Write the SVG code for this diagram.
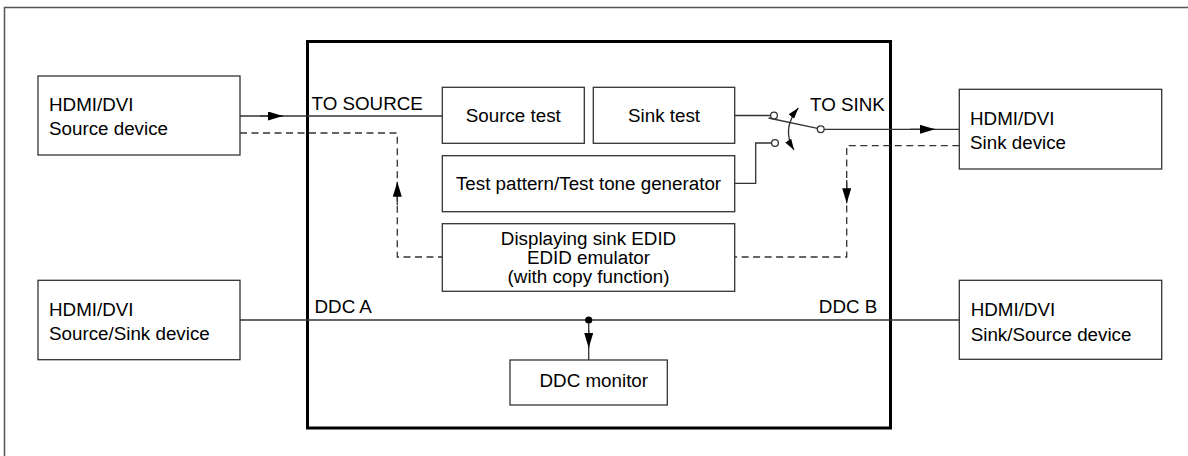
<svg xmlns="http://www.w3.org/2000/svg" width="1188" height="456" viewBox="0 0 1188 456">
<style>
  text{font-family:"Liberation Sans",Arial,sans-serif;font-size:18.8px;fill:#000}
  .c{text-anchor:middle}
  .e{text-anchor:end}
  .box{fill:#fff;stroke:#333;stroke-width:1.3}
  .ln{fill:none;stroke:#333;stroke-width:1.3}
  .dash{fill:none;stroke:#333;stroke-width:1.3;stroke-dasharray:7 4.5}
  .dot{fill:#fff;stroke:#333;stroke-width:1.3}
</style>
<defs>
  <marker id="arr" markerUnits="userSpaceOnUse" markerWidth="16" markerHeight="10" refX="15" refY="4.5" orient="auto">
    <path d="M0,0 L15,4.5 L0,9 z" fill="#000" stroke="none"/>
  </marker>
  <marker id="sarr" markerUnits="userSpaceOnUse" markerWidth="12" markerHeight="8" refX="11" refY="3.5" orient="auto-start-reverse">
    <path d="M0,0 L11,3.5 L0,7 z" fill="#000" stroke="none"/>
  </marker>
</defs>
<rect id="frame" x="4.5" y="7.5" width="1200" height="470" fill="none" stroke="#555" stroke-width="1.5"/>
<g id="main-unit"><rect x="307.5" y="41.5" width="583" height="386.5" fill="none" stroke="#000" stroke-width="3"/></g>

<g id="connectors">
  <!-- source signal -->
  <path class="ln" d="M240,116 H442.3"/>
  <path class="ln" d="M260,116 H283" marker-end="url(#arr)"/>
  <!-- sink test to switch -->
  <path class="ln" d="M734.7,115.5 H770.5"/>
  <path class="ln" d="M734.7,183.3 H755.7 V143 H771.5"/>
  <!-- switch blade -->
  <path class="ln" d="M768.5,118 L817.5,128.3"/>
  <path class="sarr ln" d="M798.3,108 Q781,129 794,150" marker-start="url(#sarr)" marker-end="url(#sarr)"/>
  <!-- output -->
  <path class="ln" d="M824.2,129.3 H959.3"/>
  <path class="ln" d="M910,129.3 H935" marker-end="url(#arr)"/>
  <!-- EDID dashed -->
  <path class="dash" d="M240,133 H397.3 V257 H442.3"/>
  <path class="ln" d="M397.3,205 V181.7" marker-end="url(#arr)" stroke="none"/>
  <path class="dash" d="M959.3,145.7 H846.7 V257 H734.7"/>
  <path class="ln" d="M846.7,180 V203.3" marker-end="url(#arr)" stroke="none"/>
  <!-- DDC -->
  <path class="ln" d="M240,320 H959.3"/>
  <path class="ln" d="M588.7,320 V360"/>
  <path class="ln" d="M588.7,330 V348" marker-end="url(#arr)"/>
  <circle cx="588.7" cy="320" r="3.6" fill="#000"/>
  <circle class="dot" cx="774" cy="115.5" r="3.4"/>
  <circle class="dot" cx="775" cy="143" r="3.4"/>
  <circle class="dot" cx="820.7" cy="129.3" r="3.4"/>
</g>

<g id="source-device">
  <rect class="box" x="38" y="76" width="202" height="79"/>
  <text x="49" y="110.5">HDMI/DVI</text>
  <text x="49" y="135">Source device</text>
</g>
<g id="source-sink-device">
  <rect class="box" x="38" y="280.3" width="202" height="79.4"/>
  <text x="49" y="315.7">HDMI/DVI</text>
  <text x="49" y="340">Source/Sink device</text>
</g>
<g id="sink-device">
  <rect class="box" x="959.3" y="89.3" width="202.4" height="79.7"/>
  <text x="970" y="125">HDMI/DVI</text>
  <text x="970" y="149.3">Sink device</text>
</g>
<g id="sink-source-device">
  <rect class="box" x="959.3" y="280.3" width="202.4" height="79"/>
  <text x="970.7" y="316">HDMI/DVI</text>
  <text x="970.7" y="340.7">Sink/Source device</text>
</g>
<g id="source-test">
  <rect class="box" x="442.3" y="87.3" width="142" height="56"/>
  <text class="c" x="513.3" y="121.5">Source test</text>
</g>
<g id="sink-test">
  <rect class="box" x="593.3" y="87.3" width="141.4" height="56"/>
  <text class="c" x="664" y="121.5">Sink test</text>
</g>
<g id="test-pattern">
  <rect class="box" x="442.3" y="155.7" width="292.4" height="56"/>
  <text class="c" x="588.5" y="190">Test pattern/Test tone generator</text>
</g>
<g id="edid">
  <rect class="box" x="442.3" y="223.7" width="292.4" height="67.6"/>
  <text class="c" x="588.5" y="245">Displaying sink EDID</text>
  <text class="c" x="588.5" y="264">EDID emulator</text>
  <text class="c" x="588.5" y="282.7">(with copy function)</text>
</g>
<g id="ddc-monitor">
  <rect class="box" x="510" y="360" width="157.3" height="45"/>
  <text class="c" x="593.8" y="387">DDC monitor</text>
</g>
<g id="labels">
  <text x="311.5" y="110">TO SOURCE</text>
  <text x="810" y="110.7">TO SINK</text>
  <text x="314.5" y="313.3">DDC A</text>
  <text class="e" x="877.3" y="312.7">DDC B</text>
</g>
</svg>
